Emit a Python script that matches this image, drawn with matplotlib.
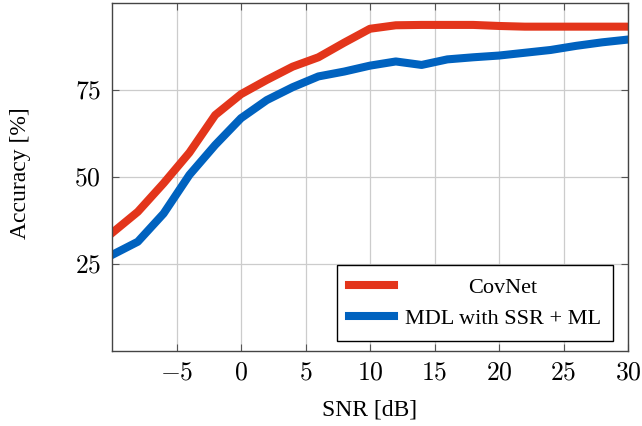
import matplotlib.pyplot as plt
import numpy as np

snr = np.arange(-10, 31, 2)
covnet = [33.9, 40.0, 48.2, 57.0, 67.8, 73.8, 77.9, 81.7, 84.4, 88.6, 92.6,
          93.6, 93.7, 93.7, 93.7, 93.4, 93.2, 93.2, 93.2, 93.2, 93.2]
mdl = [27.6, 31.4, 39.5, 50.6, 59.2, 66.9, 72.1, 75.8, 78.9, 80.3, 82.0,
       83.2, 82.2, 83.8, 84.4, 84.9, 85.7, 86.5, 87.7, 88.7, 89.5]
labels = ['CovNet', 'MDL with SSR + ML']

plt.rcParams['font.family'] = 'Liberation Serif'
plt.rcParams['mathtext.fontset'] = 'cm'

fig = plt.figure(figsize=(6.42, 4.26), dpi=100)
ax = fig.add_axes([112 / 642, 1 - 351 / 426, 516 / 642, 348 / 426])

ax.plot(snr, covnet, color='#E3351B', lw=5.8, label=labels[0])
ax.plot(snr, mdl, color='#0062BF', lw=5.8, label=labels[1])

ax.set_xlim(-10, 30)
ax.set_ylim(0, 100)
xt = [-5, 0, 5, 10, 15, 20, 25, 30]
yt = [25, 50, 75]
ax.set_xticks(xt)
ax.set_yticks(yt)
ax.set_xticklabels(['$%d$' % v for v in xt])
ax.set_yticklabels(['$%d$' % v for v in yt])
ax.tick_params(direction='in', top=True, right=True, labelsize=18.5, length=5,
               color='#555555', pad=8)
ax.grid(True, color='#cccccc', lw=0.9)
ax.set_axisbelow(True)
for s in ax.spines.values():
    s.set_color('#444444')
    s.set_linewidth(1)

ax.set_xlabel('SNR [dB]', fontsize=17, va='center')
ax.set_ylabel('Accuracy [%]', fontsize=17, va='center')
ax.xaxis.set_label_coords(0.5, -59 / 348)
ax.yaxis.set_label_coords(-91 / 516, 0.51)

leg = ax.legend(loc='lower right', fontsize=16, handlelength=2.0, handletextpad=0.5,
                fancybox=False, edgecolor='black', framealpha=1, borderaxespad=0,
                bbox_to_anchor=(501 / 516, 10 / 348), labelspacing=0.45,
                borderpad=0.55)
leg.get_frame().set_linewidth(1)

# centre the legend labels like pgfplots does
fig.canvas.draw()
texts = leg.get_texts()
widths = [t.get_window_extent().width for t in texts]
for t, w in zip(texts, widths):
    t.set_x((max(widths) - w) / 2)

fig.savefig('out.png', dpi=100)
